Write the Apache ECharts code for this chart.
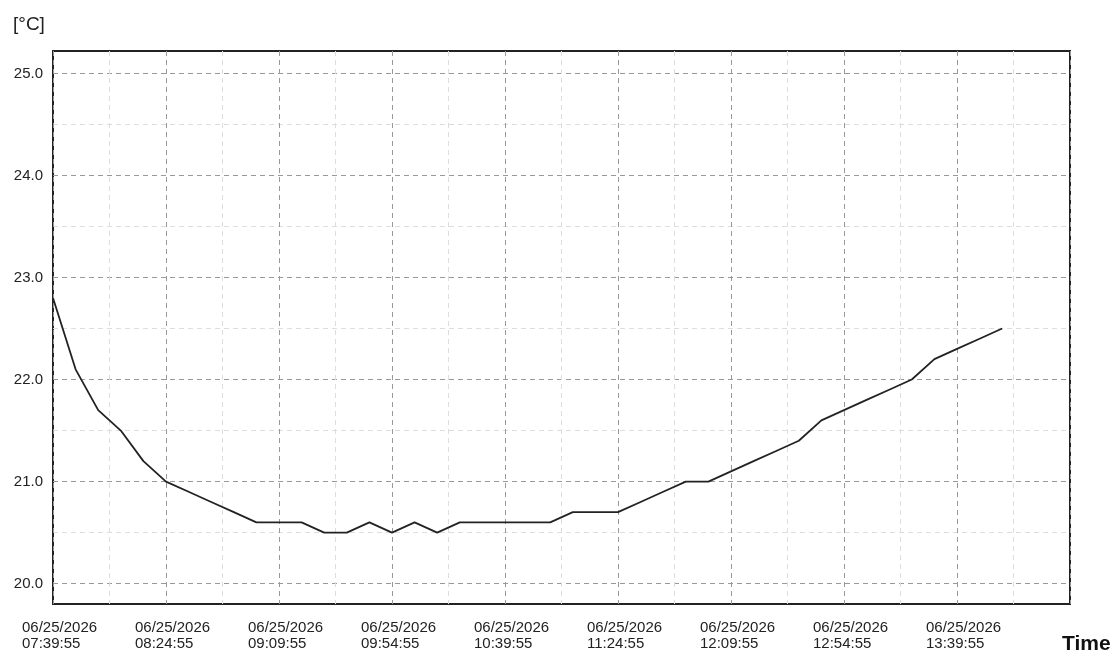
<!DOCTYPE html>
<html>
<head>
<meta charset="utf-8">
<script src="https://cdn.jsdelivr.net/npm/echarts@6/dist/echarts.min.js"></script>
<style>
  html, body { margin: 0; padding: 0; background: #fff; }
  #chart1 { width: 1115px; height: 652px; }
</style>
</head>
<body>
<div id="chart1"></div>
<script>
var day = '06/25/2026';
var times = ['07:39:55', '07:48:55', '07:57:55', '08:06:55', '08:15:55', '08:24:55', '08:33:55', '08:42:55',
    '08:51:55', '09:00:55', '09:09:55', '09:18:55', '09:27:55', '09:36:55', '09:45:55', '09:54:55',
    '10:03:55', '10:12:55', '10:21:55', '10:30:55', '10:39:55', '10:48:55', '10:57:55', '11:06:55',
    '11:15:55', '11:24:55', '11:33:55', '11:42:55', '11:51:55', '12:00:55', '12:09:55', '12:18:55',
    '12:27:55', '12:36:55', '12:45:55', '12:54:55', '13:03:55', '13:12:55', '13:21:55', '13:30:55',
    '13:39:55', '13:48:55', '13:57:55'];
var temps = [22.8, 22.1, 21.7, 21.5, 21.2, 21.0, 20.9, 20.8, 20.7, 20.6,
    20.6, 20.6, 20.5, 20.5, 20.6, 20.5, 20.6, 20.5, 20.6, 20.6,
    20.6, 20.6, 20.6, 20.7, 20.7, 20.7, 20.8, 20.9, 21.0, 21.0,
    21.1, 21.2, 21.3, 21.4, 21.6, 21.7, 21.8, 21.9, 22.0, 22.2,
    22.3, 22.4, 22.5];
var yTicks = [20, 21, 22, 23, 24, 25];
var yMinorTicks = [20.5, 21.5, 22.5, 23.5, 24.5];
var xStart = '07:39:55';
var xSpanMin = 405;   // axis runs to 14:24:55
var xStepMin = 45;

function toSec(t) {
    var p = t.split(':');
    return (+p[0]) * 3600 + (+p[1]) * 60 + (+p[2]);
}
function pad(n) { return (n < 10 ? '0' : '') + n; }
function fmtMin(v) {
    var s = toSec(xStart) + Math.round(v * 60);
    return pad(Math.floor(s / 3600)) + ':' + pad(Math.floor(s / 60) % 60) + ':' + pad(s % 60);
}

var lineData = times.map(function (t, i) {
    return [(toSec(t) - toSec(xStart)) / 60, temps[i]];
});

var myChart = echarts.init(document.getElementById('chart1'));

var labelFont = { color: '#222', fontSize: 15, fontFamily: 'Liberation Sans' };

option = {
    animation: false,
    title: [{
        text: '[°C]',
        left: 8,
        top: 10,
        textStyle: { fontSize: 19, fontWeight: 'normal', color: '#222', fontFamily: 'Liberation Sans' }
    }, {
        text: 'Time',
        left: 1057,
        top: 629,
        textStyle: { fontSize: 21, fontWeight: 'bold', color: '#111', fontFamily: 'Liberation Sans' }
    }],
    grid: {
        left: 53,
        right: 45,
        top: 51,
        bottom: 48,
        show: true,
        borderColor: '#222',
        borderWidth: 2
    },
    xAxis: {
        type: 'value',
        min: 0,
        max: xSpanMin,
        interval: xStepMin,
        axisLine: { show: false },
        axisTick: { show: false },
        axisLabel: Object.assign({
            showMaxLabel: false,
            align: 'left',
            margin: 16,
            lineHeight: 16,
            padding: [0, 0, 0, -31],
            formatter: function (v) { return day + '\n' + fmtMin(v); }
        }, labelFont),
        splitLine: { show: true, lineStyle: { color: '#999', type: [5, 4], width: 1 } },
        minorTick: { show: false, splitNumber: 2 },
        minorSplitLine: { show: true, lineStyle: { color: '#ddd', type: [5, 4], width: 1 } }
    },
    yAxis: [{
        type: 'value',
        min: 19.8,
        max: 25.22,
        axisLine: { show: false },
        axisTick: { show: false, customValues: yTicks },
        axisLabel: Object.assign({
            customValues: yTicks,
            margin: 10,
            formatter: function (v) { return v.toFixed(1); }
        }, labelFont),
        splitLine: { show: true, lineStyle: { color: '#999', type: [5, 4], width: 1 } }
    }, {
        type: 'value',
        min: 19.8,
        max: 25.22,
        position: 'left',
        axisLine: { show: false },
        axisTick: { show: false, customValues: yMinorTicks },
        axisLabel: { show: false },
        splitLine: { show: true, lineStyle: { color: '#ddd', type: [5, 4], width: 1 } }
    }],
    series: [{
        type: 'line',
        yAxisIndex: 0,
        symbol: 'none',
        lineStyle: { color: '#222', width: 1.8 },
        data: lineData,
        z: 5
    }]
};
myChart.setOption(option);
window.onresize = myChart.resize;
</script>
</body>
</html>
